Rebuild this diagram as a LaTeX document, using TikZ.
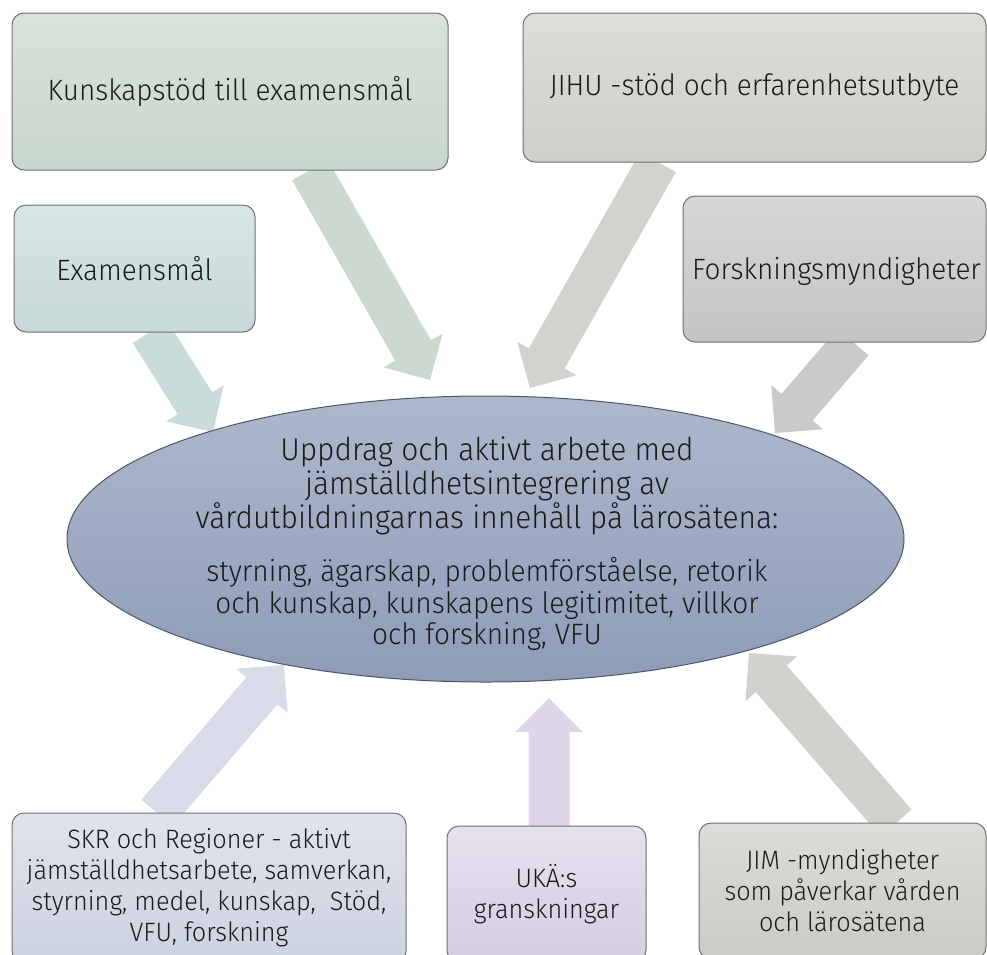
\documentclass[tikz,border=0pt]{standalone}
\usepackage{fontspec}
\setmainfont{Fira Sans Light}[FakeStretch=0.95]
\usetikzlibrary{calc,shapes.geometric}
\definecolor{kunT}{HTML}{D9E2DB}\definecolor{kunB}{HTML}{C8D7CC}
\definecolor{jihuT}{HTML}{DCDFD8}\definecolor{jihuB}{HTML}{CCD0C8}
\definecolor{forT}{HTML}{D7D7D7}\definecolor{forB}{HTML}{C4C4C4}
\definecolor{exT}{HTML}{D8E5E5}\definecolor{exB}{HTML}{C6D9D8}
\definecolor{elT}{HTML}{AEB8CC}\definecolor{elB}{HTML}{8E9CB8}
\definecolor{skrT}{HTML}{DFE3EC}\definecolor{skrB}{HTML}{CCD2DF}
\definecolor{ukaT}{HTML}{E6E1EE}\definecolor{ukaB}{HTML}{D6CCE2}
\definecolor{jimT}{HTML}{DCDCD8}\definecolor{jimB}{HTML}{CBCBC5}
\definecolor{aone}{HTML}{CADCDA}\definecolor{atwo}{HTML}{CBD9CE}
\definecolor{athree}{HTML}{D1D4CC}\definecolor{afour}{HTML}{CACACA}
\definecolor{afive}{HTML}{D8DCE8}\definecolor{asix}{HTML}{DDD6E9}
\definecolor{aseven}{HTML}{D2D1CC}
\definecolor{boxline}{HTML}{707070}\definecolor{elline}{HTML}{4E5566}
\definecolor{txt}{HTML}{1A1A1A}
\newcommand\blockarrow[3]{%
  \coordinate (#1-h) at ($(#2)!34pt!(#1)$);
  \fill[#3] ($(#1)!20.5pt!90:(#2)$) -- ($(#1-h)!20.5pt!90:(#2)$)
    -- ($(#1-h)!34pt!90:(#2)$) -- (#2) -- ($(#1-h)!34pt!-90:(#2)$)
    -- ($(#1-h)!20.5pt!-90:(#2)$) -- ($(#1)!20.5pt!-90:(#2)$) -- cycle;}
\begin{document}
\begin{tikzpicture}[x=1pt,y=-1pt,
  box/.style={draw=boxline, line width=1pt, rounded corners=12pt, align=center,
    inner sep=0pt, text=txt},
  bigtxt/.style={font=\fontsize{29.4}{35}\selectfont},
  smalltxt/.style={font=\fontsize{26.6}{31}\selectfont}]
\useasboundingbox (0,0) rectangle (987,954);
\clip (0,0) rectangle (987,954);
% coordinates: tails and tips
\coordinate (t1) at (150,332);  \coordinate (p1) at (213,432);
\coordinate (t2) at (310,170);  \coordinate (p2) at (430,380);
\coordinate (t3) at (658,162);  \coordinate (p3) at (530,388);
\coordinate (t4) at (853,342);  \coordinate (p4) at (775,433);
\coordinate (t5) at (157,813);  \coordinate (p5) at (284,665);
\coordinate (t6) at (549,826);  \coordinate (p6) at (549,698);
\coordinate (t7) at (896,823);  \coordinate (p7) at (749,653);
% arrows
\blockarrow{t1}{p1}{aone}
\blockarrow{t2}{p2}{atwo}
\blockarrow{t3}{p3}{athree}
\blockarrow{t4}{p4}{afour}
\blockarrow{t5}{p5}{afive}
\blockarrow{t6}{p6}{asix}
\blockarrow{t7}{p7}{aseven}
% boxes
\node[box, bigtxt, top color=kunT, bottom color=kunB, minimum width=436pt, minimum height=157pt]
  (kun) at (230,91.5) {Kunskapstöd till examensmål};
\node[box, bigtxt, top color=jihuT, bottom color=jihuB, minimum width=463pt, minimum height=149pt]
  (jihu) at (754.5,87.5) {JIHU -stöd och erfarenhetsutbyte};
\node[box, top color=forT, bottom color=forB, minimum width=303pt, minimum height=146pt]
  (forsk) at (834.5,269) {};
\node[bigtxt, text=txt, anchor=west, inner sep=0pt] (forsktxt) at (692,271) {Forskningsmyndigheter};
\node[box, bigtxt, top color=exT, bottom color=exB, minimum width=241pt, minimum height=127pt]
  (exam) at (134.5,268.5) {Examensmål};
\node[box, smalltxt, top color=skrT, bottom color=skrB, minimum width=394pt, minimum height=150pt]
  (skr) at (209,888) {SKR och Regioner - aktivt\\jämställdhetsarbete, samverkan,\\styrning, medel, kunskap,\ \ Stöd,\\VFU, forskning};
\node[box, smalltxt, top color=ukaT, bottom color=ukaB, minimum width=199pt, minimum height=136pt]
  (uka) at (546.5,894) {UKÄ:s\\granskningar};
\node[box, smalltxt, top color=jimT, bottom color=jimB, minimum width=287pt, minimum height=136pt]
  (jim) at (842.5,891) {JIM -myndigheter\\som påverkar vården\\och lärosätena};
% ellipse
\node[ellipse, draw=elline, line width=1pt, top color=elT, bottom color=elB,
  minimum width=837pt, minimum height=286pt, inner sep=0pt] (ell) at (485.5,539) {};
\node[align=center, text=txt, font=\fontsize{31.5}{34}\selectfont, inner sep=0pt]
  (elltop) at (487,486) {Uppdrag och aktivt arbete med\\jämställdhetsintegrering av\\vårdutbildningarnas innehåll på lärosätena:};
\node[align=center, text=txt, font=\fontsize{29.5}{31.5}\selectfont, inner sep=0pt]
  (ellbot) at (487,604) {styrning, ägarskap, problemförståelse, retorik\\och kunskap, kunskapens legitimitet, villkor\\och forskning, VFU};
\end{tikzpicture}
\end{document}
